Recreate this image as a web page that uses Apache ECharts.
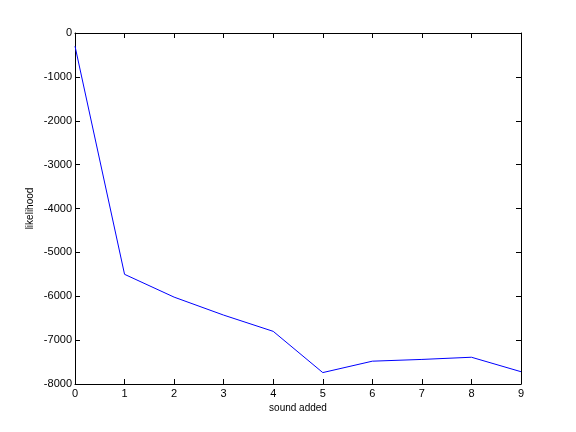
<!DOCTYPE html>
<html><head><meta charset="utf-8">
<script src="https://cdn.jsdelivr.net/npm/echarts@6/dist/echarts.min.js"></script>
<style>html,body{margin:0;padding:0;background:#fff}#c{width:576px;height:432px}</style>
</head><body><div id="c"></div>
<script>
const xValues = [0, 1, 2, 3, 4, 5, 6, 7, 8, 9];
const likelihood = [-300, -5500, -6020, -6430, -6800, -7740, -7480, -7440, -7390, -7720];
const xTitle = 'sound added';
const yTitle = 'likelihood';

const chart = echarts.init(document.getElementById('c'), null, {renderer: 'canvas'});
const font = {fontFamily: 'Liberation Sans, Arial, sans-serif', fontSize: 11, color: '#000'};
const titleFont = {fontFamily: 'Liberation Sans, Arial, sans-serif', fontSize: 10, color: '#000'};
const lineStyle = {color: '#000', width: 1};
function xAxis(pos, show) {
  return {type: 'value', position: pos, min: 0, max: 9, interval: 1,
    name: show ? xTitle : '', nameLocation: 'middle', nameGap: 19, nameTextStyle: titleFont,
    nameMoveOverlap: false,
    axisLine: {show: true, onZero: false, lineStyle},
    axisTick: {show: true, inside: true, length: 5, lineStyle},
    axisLabel: {show: show, margin: 4, formatter: v => String(v), ...font},
    splitLine: {show: false}};
}
function yAxis(pos, show) {
  return {type: 'value', position: pos, min: -8000, max: 0, interval: 1000,
    name: show ? yTitle : '', nameLocation: 'middle', nameGap: 40, nameTextStyle: titleFont,
    nameMoveOverlap: false,
    axisLine: {show: true, onZero: false, lineStyle},
    axisTick: {show: true, inside: true, length: 5, lineStyle},
    axisLabel: {show: show, margin: 3, formatter: v => String(v), ...font},
    splitLine: {show: false}};
}
chart.setOption({
  animation: false,
  backgroundColor: '#fff',
  grid: {left: 75, right: 55, top: 33, bottom: 48, containLabel: false},
  xAxis: [xAxis('bottom', true), xAxis('top', false)],
  yAxis: [yAxis('left', true), yAxis('right', false)],
  series: [{type: 'line', xAxisIndex: 0, yAxisIndex: 0,
    data: xValues.map((x, i) => [x, likelihood[i]]),
    showSymbol: false, lineStyle: {color: '#0000ff', width: 1}}]
});
</script></body></html>
